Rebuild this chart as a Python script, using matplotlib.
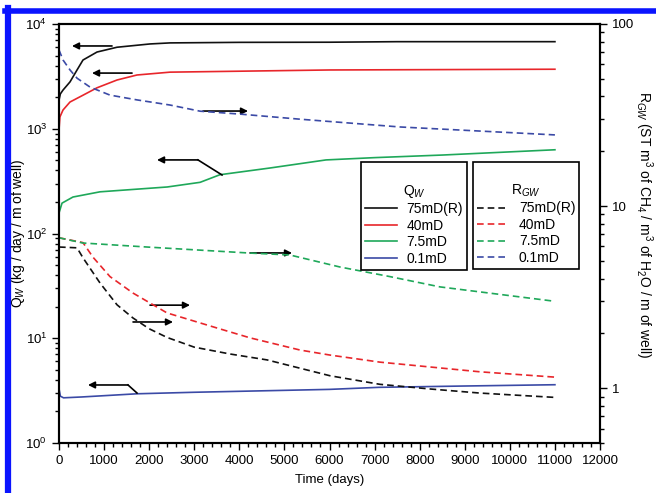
import matplotlib
matplotlib.use("Agg")
import matplotlib.pyplot as plt
import matplotlib.ticker as mticker
from matplotlib.lines import Line2D
import numpy as np

plt.rcParams['font.family'] = ['Liberation Sans', 'DejaVu Sans']
plt.rcParams['mathtext.fontset'] = 'custom'
plt.rcParams['mathtext.rm'] = 'Liberation Sans'
plt.rcParams['mathtext.it'] = 'Liberation Sans:italic'
plt.rcParams['mathtext.bf'] = 'Liberation Sans:bold'

# ---------------- data ----------------
labels = ["75mD(R)", "40mD", "7.5mD", "0.1mD"]
colors = ["#111111", "#e8262b", "#1fa85a", "#3b4aa6"]

# Q_w (left axis, kg/day/m of well)
qw_75_days = [0, 30, 89, 244, 400, 532, 843, 1287, 2019, 2462, 4000, 6000, 7500, 9000, 11000]
qw_75_vals = [1880, 2150, 2340, 2800, 3640, 4530, 5400, 6000, 6450, 6600, 6680, 6700, 6780, 6780, 6780]

qw_40_days = [0, 20, 89, 244, 532, 843, 1287, 1730, 2462, 6000, 11000]
qw_40_vals = [973, 1295, 1510, 1800, 2090, 2460, 2920, 3260, 3470, 3640, 3700]

qw_7_days = [0, 67, 310, 910, 2400, 3130, 3570, 4680, 5923, 7000, 8500, 11000]
qw_7_vals = [157, 195, 223, 250, 278, 308, 364, 422, 504, 530, 561, 630]

qw_01_days = [0, 30, 100, 500, 1730, 3000, 6000, 7100, 9000, 11000]
qw_01_vals = [3.3, 2.8, 2.7, 2.75, 2.95, 3.05, 3.25, 3.4, 3.5, 3.6]

# R_GW (right axis)
rgw_75_days = [0, 400, 532, 910, 1287, 1641, 2000, 2396, 3000, 3800, 4614, 6012, 7120, 8230, 9339, 11000]
rgw_75_vals = [5.96, 5.9, 5.2, 3.78, 2.87, 2.43, 2.12, 1.9, 1.68, 1.54, 1.43, 1.17, 1.05, 0.99, 0.94, 0.89]

rgw_40_days = [0, 532, 754, 1131, 1641, 2396, 3505, 4237, 5346, 6012, 7120, 9339, 11000]
rgw_40_vals = [6.7, 6.3, 5.24, 4.1, 3.33, 2.59, 2.14, 1.89, 1.62, 1.52, 1.39, 1.23, 1.15]

rgw_7_days = [0, 530, 2000, 4240, 5120, 6230, 7340, 8450, 11000]
rgw_7_vals = [6.7, 6.27, 5.95, 5.52, 5.39, 4.63, 4.1, 3.6, 3.0]

rgw_01_days = [0, 90, 245, 400, 690, 1130, 1730, 2460, 3130, 4015, 5350, 7560, 11000]
rgw_01_vals = [72, 63.4, 55.9, 50.4, 45, 40.7, 38.3, 35.9, 33.2, 32.0, 30, 27.2, 24.6]

x_ticks = list(range(0, 12001, 1000))

# ---------------- figure ----------------
fig = plt.figure(figsize=(6.56, 4.93), dpi=100)
ax = fig.add_axes([59/656, 1-443/493, 541/656, 419/493])
ax2 = ax.twinx()

lw = 1.2
dash = (0, (4, 2.4))
qw_sets = [(qw_75_days, qw_75_vals), (qw_40_days, qw_40_vals),
           (qw_7_days, qw_7_vals), (qw_01_days, qw_01_vals)]
rgw_sets = [(rgw_75_days, rgw_75_vals), (rgw_40_days, rgw_40_vals),
            (rgw_7_days, rgw_7_vals), (rgw_01_days, rgw_01_vals)]

qh, rh = [], []
for (d, v), c, lab in zip(qw_sets, colors, labels):
    l, = ax.plot(d, v, color=c, lw=lw, label=lab)
    qh.append(l)
for (d, v), c, lab in zip(rgw_sets, colors, labels):
    l, = ax2.plot(d, v, color=c, lw=lw, ls=dash, label=lab)
    rh.append(l)

ax.set_yscale('log')
ax2.set_yscale('log')
ax.set_xlim(0, 12000)
ax.set_ylim(1, 1e4)
ax2.set_ylim(0.5, 100)
ax.set_xticks(x_ticks)
ax.xaxis.set_minor_locator(mticker.MultipleLocator(200))

ax.yaxis.set_major_locator(mticker.LogLocator(base=10, numticks=10))
ax.yaxis.set_minor_locator(mticker.LogLocator(base=10, subs=np.arange(2, 10), numticks=20))
ax.yaxis.set_minor_formatter(mticker.NullFormatter())
ax2.yaxis.set_major_locator(mticker.FixedLocator([1, 10, 100]))
ax2.yaxis.set_major_formatter(mticker.FuncFormatter(lambda v, p: f"{v:g}"))
ax2.yaxis.set_minor_locator(mticker.LogLocator(base=10, subs=np.arange(2, 10), numticks=20))
ax2.yaxis.set_minor_formatter(mticker.NullFormatter())

for a in (ax, ax2):
    a.tick_params(which='major', direction='out', length=5, width=1.0, labelsize=9.5)
    a.tick_params(which='minor', direction='out', length=3, width=1.0)
    for s in a.spines.values():
        s.set_linewidth(1.5)

# labels
ax.set_xlabel("Time (days)", fontsize=9.5, va='center')
ax.xaxis.set_label_coords(0.5, -0.088)
ax.set_ylabel(r"Q$_{W}$ (kg / day / m of well)", fontsize=10, va='center')
ax.yaxis.set_label_coords(-0.076, 0.5)
ax2.set_ylabel(r"R$_{GW}$ (ST m$^{3}$ of CH$_{4}$ / m$^{3}$ of H$_{2}$O / m of well)",
               fontsize=10, rotation=270, va='center')
ax2.yaxis.set_label_coords(1.081, 0.52)

# arrows (annotations)
ak = dict(arrowstyle='-|>', color='black', lw=1.2, mutation_scale=10, shrinkA=0, shrinkB=0)
def harrow(a, x0, x1, y):
    a.annotate('', xy=(x1, y), xytext=(x0, y), arrowprops=ak)

harrow(ax, 1176, 288, 6170)      # black Q_w
harrow(ax, 1620, 732, 3400)      # red Q_w
harrow(ax, 3194, 4193, 1476)     # blue R_gw
ax.plot([3616, 3083], [362, 504], color='black', lw=1.2)
harrow(ax, 3083, 2174, 504)      # green Q_w
harrow(ax, 4237, 5169, 65.2)     # green R_gw
harrow(ax, 2019, 2906, 20.7)     # red R_gw
harrow(ax, 1642, 2529, 14.3)     # black R_gw
ax.plot([1730, 1531], [3.0, 3.58], color='black', lw=1.2)
harrow(ax, 1531, 643, 3.58)      # blue Q_w

# legends
common = dict(loc='upper left', fontsize=10, frameon=True, fancybox=False,
              framealpha=1, edgecolor='black', borderaxespad=0, handlelength=2.3,
              handletextpad=0.7, labelspacing=0.18, borderpad=0.3,
              title_fontsize=10)
leg1 = ax2.legend(handles=qh, title="\n" + r"Q$_{W}$", bbox_to_anchor=(0.558, 0.6706), **common)
leg1.get_frame().set_linewidth(1.2)
ax2.add_artist(leg1)
leg2 = ax2.legend(handles=rh, title="\n" + r"R$_{GW}$", bbox_to_anchor=(0.7652, 0.6706), **common)
leg2.get_frame().set_linewidth(1.2)

# blue frame
blue = '#0a14ff'
fig.add_artist(Line2D([5/656, 1.0], [1-10.5/493, 1-10.5/493], color=blue, lw=4, transform=fig.transFigure))
fig.add_artist(Line2D([8/656, 8/656], [0.0, 1-8/493], color=blue, lw=4.5, transform=fig.transFigure))

fig.savefig("out.png", dpi=100)
